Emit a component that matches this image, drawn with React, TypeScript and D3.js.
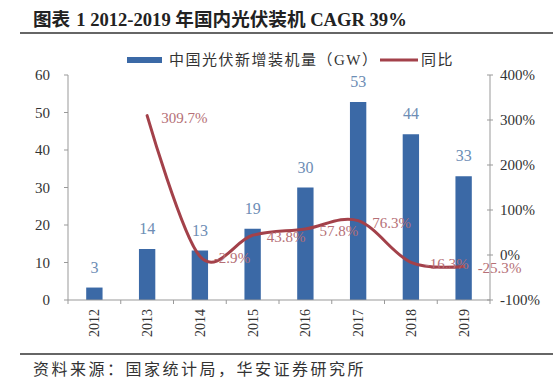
import * as d3 from 'd3';

// data
const years = ['2012', '2013', '2014', '2015', '2016', '2017', '2018', '2019'];
const installs = [3.32, 13.6, 13.2, 19.0, 30.0, 52.8, 44.2, 33.0];
const yoyYears = ['2013', '2014', '2015', '2016', '2017', '2018', '2019'];
const yoy = [309.7, -2.9, 43.8, 57.8, 76.3, -16.3, -25.3];
const leftTicks = [0, 10, 20, 30, 40, 50, 60];
const rightTicks = [-100, 0, 100, 200, 300, 400];

const W = 553;
const H = 387;
const FONT = '"Liberation Serif", "Noto Sans CJK SC", serif';
const BAR = '#3b69a6';
const LINE = '#a3414a';

export default function App() {
  const x = d3.scaleBand().domain(years).range([68, 490]).paddingInner(0).paddingOuter(0);
  const yL = d3.scaleLinear().domain([0, 60]).range([300, 75]);
  const yR = d3.scaleLinear().domain([-100, 400]).range([300, 75]);
  const bw = x.bandwidth() * 0.31;
  const cx = (d: string) => (x(d) as number) + x.bandwidth() / 2;

  const pts: [number, number][] = yoyYears.map((d, i) => [cx(d), yR(yoy[i])]);
  const line = d3.line().curve(d3.curveCardinal.tension(0))(pts) as string;
  const fmt = d3.format('.0f');

  const bounds = years.map((d) => x(d) as number).concat([490]);

  return (
    <svg width={W} height={H} style={{ position: 'fixed', left: 0, top: 0, background: '#fff' }} fontFamily={FONT}>
      <rect width={W} height={H} fill="#fff" />
      {/* title */}
      <text x={33} y={26} fontSize={18.6} fontWeight="bold" fill="#222">
        图表<tspan dx={6}>1 2012-2019 年国内光伏装机 CAGR 39%</tspan>
      </text>
      <line x1={20} x2={W} y1={33} y2={33} stroke="#333" strokeWidth={1.6} />

      {/* legend */}
      <rect x={127} y={57} width={35} height={6} fill={BAR} />
      <text x={169} y={65} fontSize={15} letterSpacing={1.5} fill="#333">中国光伏新增装机量（GW）</text>
      <line x1={380} x2={418} y1={60} y2={60} stroke={LINE} strokeWidth={3} />
      <text x={421} y={65} fontSize={15} letterSpacing={1.5} fill="#333">同比</text>

      {/* left axis */}
      <line x1={68} x2={68} y1={75} y2={300} stroke="#999" />
      {leftTicks.map((t) => (
        <g key={t}>
          <line x1={64} x2={68} y1={yL(t)} y2={yL(t)} stroke="#999" />
          <text x={50} y={yL(t) + 5} textAnchor="end" fontSize={15} fill="#333">{t}</text>
        </g>
      ))}

      {/* right axis */}
      <line x1={490} x2={490} y1={75} y2={300} stroke="#999" />
      {rightTicks.map((t) => (
        <g key={t}>
          <line x1={487} x2={493} y1={yR(t)} y2={yR(t)} stroke="#999" />
          <text x={500} y={yR(t) + 5} fontSize={15} fill="#333">{t}%</text>
        </g>
      ))}

      {/* bars */}
      {years.map((d, i) => (
        <g key={d}>
          <rect x={cx(d) - bw / 2} y={yL(installs[i])} width={bw} height={300 - yL(installs[i])} fill={BAR} />
          <text x={cx(d)} y={yL(installs[i]) - 15} textAnchor="middle" fontSize={16} fill="#6d8db5">{fmt(installs[i])}</text>
        </g>
      ))}

      {/* bottom axis */}
      <line x1={68} x2={490} y1={300} y2={300} stroke="#999" />
      {bounds.map((b, i) => (
        <line key={i} x1={b} x2={b} y1={300} y2={304} stroke="#999" />
      ))}
      {years.map((d) => (
        <text key={d} transform={`translate(${cx(d) + 5},309) rotate(-90)`} textAnchor="end" fontSize={14} fill="#333">{d}</text>
      ))}

      {/* yoy line */}
      <path d={line} fill="none" stroke={LINE} strokeWidth={3} strokeLinecap="round" />
      {pts.map((p, i) => (
        <text key={i} x={p[0] + 14} y={p[1] + 7} fontSize={15} fill="#b56f76">{yoy[i].toFixed(1)}%</text>
      ))}

      {/* source */}
      <line x1={20} x2={W} y1={354} y2={354} stroke="#333" strokeWidth={1.6} />
      <text x={33} y={375} fontSize={16} letterSpacing={2.5} fill="#333">资料来源：国家统计局，华安证券研究所</text>
    </svg>
  );
}
